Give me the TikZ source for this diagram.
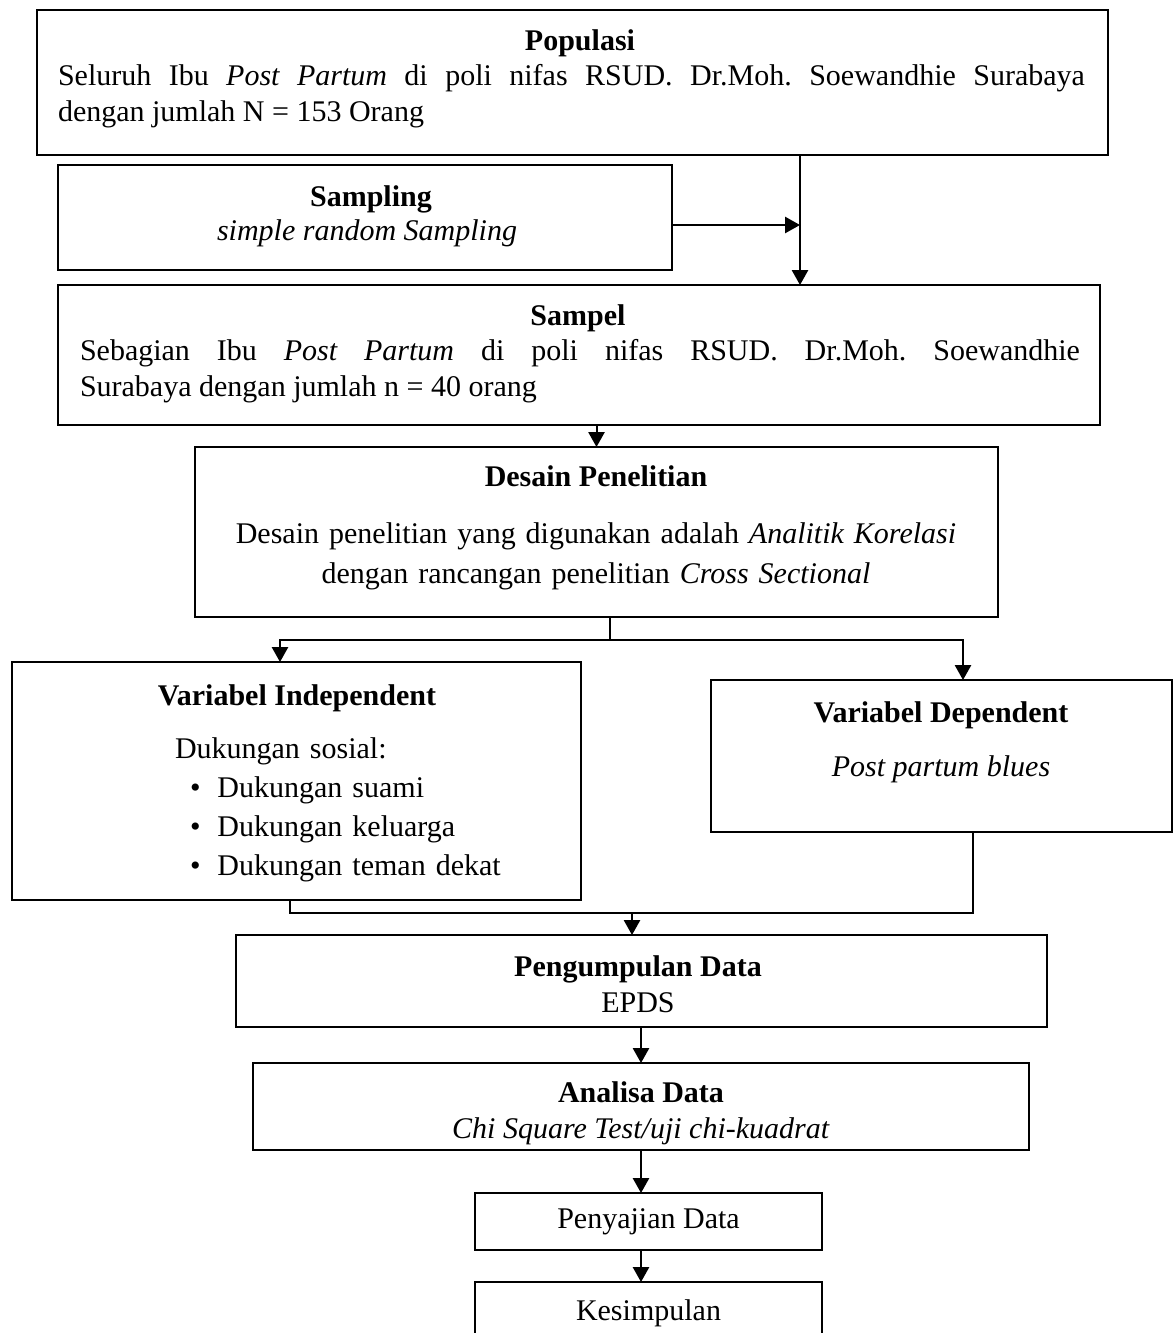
\documentclass[tikz,border=0pt,12pt]{standalone}
\usepackage{fontspec}
\setmainfont{Liberation Serif}
\usetikzlibrary{arrows.meta}

\begin{document}
\begin{tikzpicture}[
		x=0.4pt,
		y=-0.4pt,
		line width=0.8pt,
		every node/.style={inner sep=0pt, outer sep=0pt},
		kotak/.style={draw, rectangle},
		judul/.style={anchor=base, font=\bfseries},
		isi/.style={anchor=base},
		paragraf/.style={anchor=base west, align=justify},
		panah/.style={-{Triangle[length=6pt, width=6.5pt]}}
		]

	\useasboundingbox (0, 0) rectangle (1174, 1333);

	% Populasi
	\node[kotak, minimum width=428.4pt, minimum height=58pt] (pop) at (572.5, 82.5) {};
	\node[judul] (popjudul) at (580, 50) {Populasi};
	\node[paragraf, text width=410.8pt] (popisi) at (58, 85) {\hyphenpenalty=10000
		Seluruh Ibu \textit{Post Partum} di poli nifas RSUD.\ Dr.Moh.\ Soewandhie Surabaya\linebreak
		dengan jumlah N = 153 Orang};

	% Sampling
	\node[kotak, minimum width=245.6pt, minimum height=42pt] (samp) at (365, 217.5) {};
	\node[judul] (sampjudul) at (371, 206) {Sampling};
	\node[isi] (sampisi) at (367, 240) {\textit{simple random Sampling}};

	% Sampel
	\node[kotak, minimum width=416.8pt, minimum height=56pt] (sampel) at (579, 355) {};
	\node[judul] (sampeljudul) at (578, 325) {Sampel};
	\node[paragraf, text width=400pt] (sampelisi) at (80, 360) {\hyphenpenalty=10000
		Sebagian Ibu \textit{Post Partum} di poli nifas RSUD.\ Dr.Moh.\ Soewandhie\linebreak
		Surabaya dengan jumlah n = 40 orang};

	% Desain penelitian
	\node[kotak, minimum width=321.2pt, minimum height=68pt] (desain) at (596.5, 532) {};
	\node[judul] (desjudul) at (596, 486) {Desain Penelitian};
	\node[isi, text width=320pt, align=center] (desisi) at (596, 543) {%
		Desain penelitian yang digunakan adalah \textit{Analitik Korelasi}\\[1.5pt]
		dengan rancangan penelitian \textit{Cross Sectional}};

	% Variabel
	\node[kotak, minimum width=227.6pt, minimum height=95.2pt] (indep) at (296.5, 781) {};
	\node[judul] (indepjudul) at (297, 705) {Variabel Independent};
	\node[paragraf, align=left, text width=150pt] (indepisi) at (175, 758) {%
		Dukungan sosial:\\[1.1pt]
		\hspace*{6pt}\makebox[11pt][l]{\textbullet}Dukungan suami\\[1.1pt]
		\hspace*{6pt}\makebox[11pt][l]{\textbullet}Dukungan keluarga\\[1.1pt]
		\hspace*{6pt}\makebox[11pt][l]{\textbullet}Dukungan teman dekat};

	\node[kotak, minimum width=184.4pt, minimum height=60.8pt] (dep) at (941.5, 756) {};
	\node[judul] (depjudul) at (941, 722) {Variabel Dependent};
	\node[isi] (depisi) at (941, 776) {\textit{Post partum blues}};

	% Pengumpulan dan analisa
	\node[kotak, minimum width=324.4pt, minimum height=36.8pt] (kumpul) at (641.5, 981) {};
	\node[judul] (kumpuljudul) at (638, 976) {Pengumpulan Data};
	\node[isi] (kumpulisi) at (638, 1012) {EPDS};

	\node[kotak, minimum width=310.4pt, minimum height=34.8pt] (analisa) at (641, 1106.5) {};
	\node[judul] (analisajudul) at (641, 1102) {Analisa Data};
	\node[isi] (analisaisi) at (641, 1138) {\textit{Chi Square Test/uji chi-kuadrat}};

	\node[kotak, minimum width=138.8pt, minimum height=22.8pt] (saji) at (648.5, 1221.5) {Penyajian Data};
	\node[kotak, minimum width=138.8pt, minimum height=25.2pt] (simpul) at (648.5, 1313.5) {Kesimpulan};

	% Titik bantu
	\coordinate (jalur) at (800, 0);
	\coordinate (cabang) at (610, 640);
	\coordinate (gabung) at (632, 913);

	% Panah
	\draw[panah] (pop.south -| jalur) -- (sampel.north -| jalur);
	\draw[panah] ([yshift=-3pt]samp.east) -- ([yshift=-3pt]samp.east -| jalur);
	\draw[panah] (sampel.south -| desain.north) -- (desain.north);
	\draw (desain.south -| cabang) -- (cabang);
	\draw[panah] (cabang) -| ([xshift=-6.6pt]indep.north);
	\draw[panah] (cabang) -| ([xshift=8.6pt]dep.north);
	\draw ([xshift=-2.6pt]indep.south) |- (gabung) -| ([xshift=12.6pt]dep.south);
	\draw[panah] (gabung) -- (gabung |- kumpul.north);
	\draw[panah] (kumpul.south -| analisa.north) -- (analisa.north);
	\draw[panah] (analisa.south) -- (analisa.south |- saji.north);
	\draw[panah] (saji.south -| analisa.south) -- (simpul.north -| analisa.south);

\end{tikzpicture}
\end{document}
